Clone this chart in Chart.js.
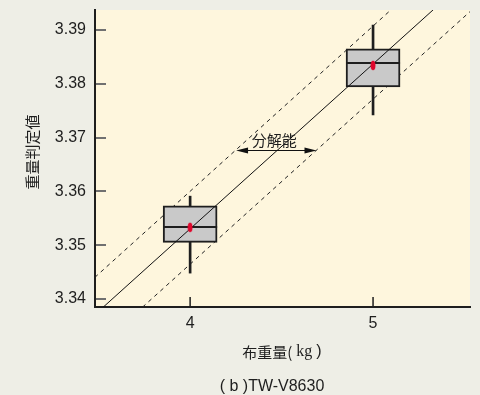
<!DOCTYPE html>
<html>
<head>
<meta charset="utf-8">
<script src="https://cdn.jsdelivr.net/npm/chart.js@4.4.0/dist/chart.umd.min.js"></script>
<style>
html, body { margin: 0; padding: 0; background: #eeeee6; }
canvas { display: block; }
</style>
</head>
<body>
<canvas id="myChart" width="480" height="395"></canvas>
<script>
// box plot values per cloth weight (kg)
var weights = [4, 5];
var whiskerLow = [3.3448, 3.3742];
var boxLow = [3.3505, 3.3794];
var medians = [3.3534, 3.3838];
var boxHigh = [3.3573, 3.3865];
var whiskerHigh = [3.3591, 3.3909];
var means = [3.3533, 3.3834];

// straight lines: [x, y] end points
var fitLine = [[3.48, 3.3371], [5.53, 3.3999]];
var upperLine = [[3.479, 3.3440], [5.53, 3.4070]];
var lowerLine = [[3.48, 3.3305], [5.53, 3.3934]];

// resolution arrow
var resolutionY = 3.3677;
var resolutionX = [4.251, 4.691];
var resolutionLabel = '分解能';

var yTicks = [3.34, 3.35, 3.36, 3.37, 3.38, 3.39];
var xTicks = [4, 5];

var sans = '"Liberation Sans", Arial, sans-serif';
var cjk = '"Noto Sans CJK JP", sans-serif';
var serif = '"Liberation Serif", serif';

function pts(arr) {
  return arr.map(function (p) { return { x: p[0], y: p[1] }; });
}

// red mean marker (tall ellipse)
var dot = document.createElement('canvas');
dot.width = 6;
dot.height = 11;
var dctx = dot.getContext('2d');
dctx.fillStyle = '#e0062c';
dctx.beginPath();
dctx.ellipse(3, 5.5, 2.4, 4.8, 0, 0, Math.PI * 2);
dctx.fill();

var BOX_INDEX = 1;

var options = {
  type: 'bar',
  data: {
    datasets: [
      {
        type: 'bar',
        data: weights.map(function (w, i) { return { x: w, y: [whiskerLow[i], whiskerHigh[i]] }; }),
        backgroundColor: '#1e1e1e',
        borderWidth: 0,
        barThickness: 2,
        grouped: false,
        order: 4
      },
      {
        type: 'bar',
        data: weights.map(function (w, i) { return { x: w, y: [boxLow[i], boxHigh[i]] }; }),
        backgroundColor: '#c9c9c9',
        borderColor: '#1e1e1e',
        borderWidth: 2,
        borderSkipped: false,
        barThickness: 54,
        grouped: false,
        order: 3
      },
      {
        type: 'line',
        data: pts(fitLine),
        borderColor: '#111',
        borderWidth: 1,
        pointRadius: 0,
        order: 1
      },
      {
        type: 'line',
        data: pts(upperLine),
        borderColor: '#222',
        borderWidth: 1,
        borderDash: [4, 4],
        pointRadius: 0,
        order: 5
      },
      {
        type: 'line',
        data: pts(lowerLine),
        borderColor: '#222',
        borderWidth: 1,
        borderDash: [4, 4],
        pointRadius: 0,
        order: 5
      },
      {
        type: 'scatter',
        data: weights.map(function (w, i) { return { x: w, y: means[i] }; }),
        pointStyle: dot,
        pointRadius: 5,
        order: 0
      }
    ]
  },
  options: {
    responsive: false,
    animation: false,
    devicePixelRatio: 1,
    layout: { padding: { top: 10, right: 10, left: 0, bottom: 0 } },
    scales: {
      x: {
        type: 'linear',
        min: 3.48,
        max: 5.53,
        offset: false,
        grid: { display: false, drawTicks: false },
        border: { color: '#1e1e1e', width: 2 },
        ticks: {
          color: '#1e1e1e',
          font: { family: sans, size: 16 },
          padding: 7
        },
        afterBuildTicks: function (scale) {
          scale.ticks = xTicks.map(function (v) { return { value: v }; });
        },
        afterFit: function (scale) {
          scale.height = 88;
          scale.paddingLeft = 0;
          scale.paddingRight = 0;
        }
      },
      y: {
        type: 'linear',
        min: 3.3385,
        max: 3.3937,
        grid: { display: false, drawTicks: false },
        border: { color: '#1e1e1e', width: 2 },
        ticks: {
          color: '#1e1e1e',
          font: { family: sans, size: 16 },
          padding: 9,
          callback: function (v) { return v.toFixed(2); }
        },
        afterBuildTicks: function (scale) {
          scale.ticks = yTicks.map(function (v) { return { value: v }; });
        },
        afterFit: function (scale) {
          scale.width = 95;
          scale.paddingTop = 0;
          scale.paddingBottom = 0;
        }
      }
    },
    plugins: {
      legend: { display: false },
      tooltip: { enabled: false }
    }
  },
  plugins: [
    {
      id: 'backdrop',
      beforeDraw: function (chart) {
        var ctx = chart.ctx, a = chart.chartArea;
        ctx.save();
        ctx.fillStyle = '#eeeee6';
        ctx.fillRect(0, 0, chart.width, chart.height);
        ctx.fillStyle = '#fef6dd';
        ctx.fillRect(a.left, a.top, a.right - a.left, a.bottom - a.top);
        ctx.restore();
      }
    },
    {
      id: 'medianLines',
      afterDatasetDraw: function (chart, args) {
        if (args.index !== BOX_INDEX) return;
        var ctx = chart.ctx, ys = chart.scales.y;
        ctx.save();
        ctx.strokeStyle = '#1e1e1e';
        ctx.lineWidth = 2;
        args.meta.data.forEach(function (el, i) {
          var y = Math.round(ys.getPixelForValue(medians[i]));
          ctx.beginPath();
          ctx.moveTo(el.x - el.width / 2, y);
          ctx.lineTo(el.x + el.width / 2, y);
          ctx.stroke();
        });
        ctx.restore();
      }
    },
    {
      id: 'extras',
      afterDraw: function (chart) {
        var ctx = chart.ctx, a = chart.chartArea;
        var xs = chart.scales.x, ys = chart.scales.y;
        ctx.save();

        // inward tick marks
        ctx.strokeStyle = '#707070';
        ctx.lineWidth = 2;
        yTicks.forEach(function (v) {
          var y = Math.round(ys.getPixelForValue(v));
          ctx.beginPath();
          ctx.moveTo(a.left + 1, y);
          ctx.lineTo(a.left + 11, y);
          ctx.stroke();
        });
        ctx.strokeStyle = '#1e1e1e';
        ctx.lineWidth = 1.5;
        xTicks.forEach(function (v) {
          var x = xs.getPixelForValue(v);
          ctx.beginPath();
          ctx.moveTo(x, a.bottom - 1);
          ctx.lineTo(x, a.bottom - 10);
          ctx.stroke();
        });

        // resolution arrow
        var x1 = xs.getPixelForValue(resolutionX[0]);
        var x2 = xs.getPixelForValue(resolutionX[1]);
        var ay = Math.round(ys.getPixelForValue(resolutionY)) + 0.5;
        ctx.strokeStyle = '#111';
        ctx.fillStyle = '#111';
        ctx.lineWidth = 1;
        ctx.beginPath();
        ctx.moveTo(x1 + 6, ay);
        ctx.lineTo(x2 - 6, ay);
        ctx.stroke();
        ctx.beginPath();
        ctx.moveTo(x1, ay);
        ctx.lineTo(x1 + 12, ay - 3);
        ctx.lineTo(x1 + 12, ay + 3);
        ctx.closePath();
        ctx.fill();
        ctx.beginPath();
        ctx.moveTo(x2, ay);
        ctx.lineTo(x2 - 12, ay - 3);
        ctx.lineTo(x2 - 12, ay + 3);
        ctx.closePath();
        ctx.fill();
        ctx.font = '15px ' + cjk;
        ctx.textAlign = 'center';
        ctx.textBaseline = 'middle';
        ctx.fillStyle = '#1e1e1e';
        ctx.fillText(resolutionLabel, (x1 + x2) / 2 - 2, ay - 10);

        // y axis title
        ctx.save();
        ctx.translate(32, 152);
        ctx.rotate(-Math.PI / 2);
        ctx.font = '15px ' + cjk;
        ctx.fillText('重量判定値', 0, 0);
        ctx.restore();

        // x axis title, mixed fonts
        var parts = [
          ['布重量(', '15px ' + cjk],
          [' kg ', '16px ' + serif],
          [')', '16px ' + sans]
        ];
        var total = 0;
        parts.forEach(function (p) { ctx.font = p[1]; p.push(ctx.measureText(p[0]).width); total += p[2]; });
        var tx = 282 - total / 2;
        ctx.textAlign = 'left';
        parts.forEach(function (p) {
          ctx.font = p[1];
          ctx.fillText(p[0], tx, 352);
          tx += p[2];
        });

        // caption
        ctx.textAlign = 'center';
        ctx.font = '16px ' + sans;
        ctx.fillText('( b )TW-V8630', 272, 387);

        ctx.restore();
      }
    }
  ]
};

var ctx = document.getElementById('myChart').getContext('2d');
new Chart(ctx, options);
</script>
</body>
</html>
